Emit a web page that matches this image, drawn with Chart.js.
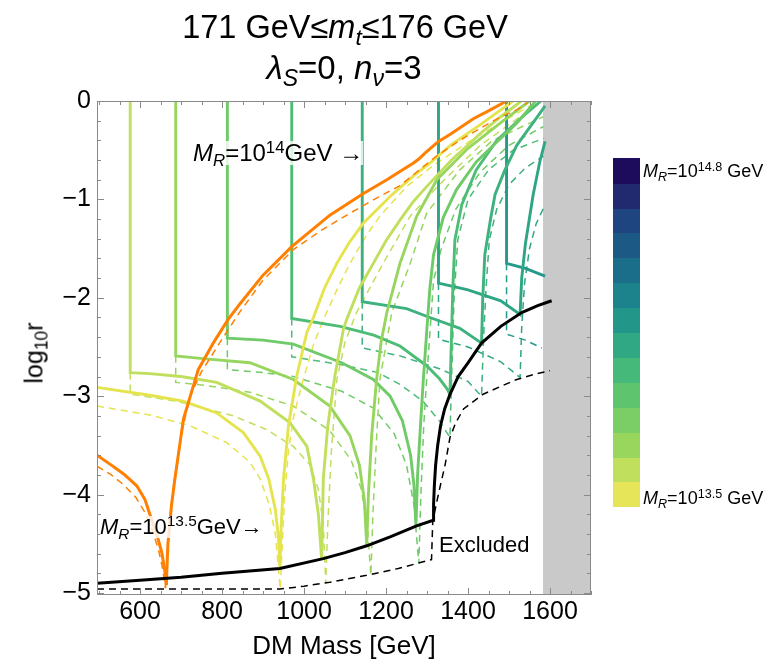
<!DOCTYPE html>
<html>
<head>
<meta charset="utf-8">
<script src="https://cdn.jsdelivr.net/npm/chart.js@4.4.1/dist/chart.umd.min.js"></script>
<style>
  html, body { margin: 0; padding: 0; background: #fff; }
  #wrap { position: relative; width: 779px; height: 662px; font-family: "Liberation Sans", Arial, sans-serif; color: #000; }
  canvas { position: absolute; left: 0; top: 0; }
  .lbl { position: absolute; white-space: nowrap; line-height: 1; }
  .sub { font-size: 70%; position: relative; top: 0.3em; }
  .sup { font-size: 70%; position: relative; top: -0.5em; }
  .bg { background: rgba(255, 255, 255, 0.8); }
  .blk { position: absolute; left: 613px; width: 27px; }
</style>
</head>
<body>
<div id="wrap">
  <canvas id="chart" width="779" height="662"></canvas>

  <div class="lbl" style="left:345px;top:11px;font-size:32.5px;transform:translateX(-50%)">171 GeV≤<i>m</i><i class="sub">t</i>≤176 GeV</div>
  <div class="lbl" style="left:344px;top:51px;font-size:33px;transform:translateX(-50%)"><i>λ</i><i class="sub">S</i>=0, <i>n</i><i class="sub">ν</i>=3</div>

  <div class="lbl" style="left:34px;top:353px;font-size:25px;transform:translate(-50%,-50%) rotate(-90deg)">log<span class="sub">10</span>r</div>

  <div class="lbl bg" style="left:193px;top:141px;font-size:24px"><i>M</i><i class="sub">R</i>=10<span class="sup">14</span>GeV →</div>
  <div class="lbl bg" style="left:100px;top:516px;font-size:22px"><i>M</i><i class="sub">R</i>=10<span class="sup">13.5</span>GeV→</div>
  <div class="lbl" style="left:439px;top:534px;font-size:22px">Excluded</div>

  <div class="lbl" style="left:643px;top:162px;font-size:18px"><i>M</i><i class="sub">R</i>=10<span class="sup">14.8</span> GeV</div>
  <div class="lbl" style="left:643px;top:489px;font-size:18px"><i>M</i><i class="sub">R</i>=10<span class="sup">13.5</span> GeV</div>
</div>

<script>
// axis ticks
const xTickVals = [600, 800, 1000, 1200, 1400, 1600];
const yTickVals = [0, -1, -2, -3, -4, -5];

// colorbar, bottom (10^13.5) to top (10^14.8)
const barColors = [
  '#e6e55a', '#c0df5c', '#99d65e', '#7bcd65', '#5ec46d', '#44b979', '#30a883',
  '#23968a', '#1c828b', '#1a6e8a', '#1c5a85', '#1f4580', '#212a6e', '#1d0b5b'
];

// excluded region (grey band)
const bandX = [1583, 1700];

// orange curve
const orangeLeft = [[495,-3.6],[530,-3.7],[560,-3.79],[592,-3.91],[612,-4.05],[628,-4.25],[642,-4.42],[653,-4.59],[660,-4.76],[664,-4.92]];
const orangeRight = [[664,-4.92],[668,-4.5],[677,-4.1],[685,-3.84],[706,-3.23],[742,-2.73],[780,-2.45],[815,-2.22],[844,-2.06],[900,-1.77],[970,-1.48],[1063,-1.16],[1145,-0.94],[1202,-0.8],[1267,-0.63],[1280,-0.59],[1295,-0.53],[1328,-0.41],[1356,-0.34],[1413,-0.18],[1450,-0.1],[1494,0]];
const orangeLeftDash = [[495,-3.71],[530,-3.8],[560,-3.9],[590,-4.03],[612,-4.18],[630,-4.36],[645,-4.56],[655,-4.75],[662,-4.95]];
const orangeRightDash = [[662,-4.95],[667,-4.55],[675,-4.15],[684,-3.85],[700,-3.4],[722,-3.0],[750,-2.75],[800,-2.42],[844,-2.14],[900,-1.82],[974,-1.51],[1040,-1.32],[1112,-1.14],[1180,-0.98],[1234,-0.86],[1320,-0.57],[1380,-0.4],[1429,-0.28],[1480,-0.16],[1519,-0.09],[1545,-0.02]];

// M_R curves, yellow to teal
const curve0Solid = [[495,-2.91],[624,-2.99],[705,-3.05],[787,-3.17],[852,-3.37],[893,-3.61],[914,-3.84],[930,-4.15],[938,-4.45],[941,-4.76],[944,-4.35],[950,-3.84],[962,-3.3],[982,-2.8],[1007,-2.35],[1023,-2.2],[1050,-1.9],[1080,-1.65],[1110,-1.44],[1145,-1.24],[1210,-0.97],[1267,-0.76],[1310,-0.62],[1360,-0.44],[1430,-0.24],[1470,-0.12],[1510,0]];
const curve0Dash = [[495,-3.1],[624,-3.19],[722,-3.3],[811,-3.47],[868,-3.67],[893,-3.84],[915,-4.1],[930,-4.4],[942,-4.96],[947,-4.5],[953,-4.0],[962,-3.55],[975,-3.2],[998,-2.83],[1025,-2.45],[1055,-2.15],[1080,-1.92],[1112,-1.65],[1150,-1.38],[1185,-1.17],[1250,-0.87],[1320,-0.64],[1400,-0.42],[1480,-0.22],[1555,-0.04]];

const curve1Solid = [[576,0],[576,-2.76],[624,-2.77],[700,-2.8],[787,-2.86],[893,-3.05],[966,-3.27],[1007,-3.51],[1023,-3.84],[1035,-4.2],[1043,-4.66],[1047,-3.84],[1058,-3.3],[1075,-2.8],[1096,-2.32],[1104,-2.22],[1135,-1.9],[1169,-1.65],[1200,-1.42],[1234,-1.21],[1265,-1.03],[1299,-0.87],[1360,-0.6],[1430,-0.33],[1480,-0.16],[1530,0]];
const curve1Dash = [[576,-2.76],[576,-2.98],[689,-3.05],[828,-3.2],[909,-3.34],[974,-3.51],[1015,-3.7],[1035,-3.95],[1047,-4.3],[1053,-4.9],[1058,-4.3],[1066,-3.6],[1080,-2.83],[1100,-2.45],[1128,-2.15],[1193,-1.65],[1259,-1.17],[1330,-0.85],[1430,-0.45],[1530,-0.15],[1575,-0.02]];

const curve2Solid = [[687,0],[687,-2.59],[760,-2.62],[868,-2.66],[974,-2.83],[1063,-3.1],[1112,-3.4],[1135,-3.7],[1147,-4.05],[1153,-4.52],[1157,-4.0],[1165,-3.4],[1177,-2.83],[1188,-2.45],[1202,-2.15],[1234,-1.65],[1275,-1.17],[1324,-0.8],[1400,-0.48],[1480,-0.22],[1550,0]];
const curve2Dash = [[687,-2.59],[687,-2.86],[760,-2.89],[868,-2.96],[974,-3.1],[1063,-3.35],[1115,-3.65],[1140,-3.95],[1155,-4.35],[1163,-4.82],[1168,-4.2],[1176,-3.5],[1185,-2.83],[1214,-2.15],[1259,-1.65],[1299,-1.14],[1380,-0.7],[1460,-0.4],[1584,-0.16]];

const curve3Solid = [[813,0],[813,-2.41],[900,-2.43],[974,-2.47],[1092,-2.66],[1169,-2.83],[1210,-3.0],[1240,-3.25],[1260,-3.6],[1268,-3.9],[1273,-4.32],[1277,-3.8],[1284,-3.3],[1291,-2.83],[1300,-2.3],[1307,-1.9],[1316,-1.56],[1340,-1.18],[1372,-0.9],[1420,-0.62],[1462,-0.45],[1520,-0.22],[1565,0]];
const curve3Dash = [[813,-2.41],[813,-2.73],[900,-2.76],[974,-2.8],[1092,-2.95],[1169,-3.12],[1220,-3.38],[1250,-3.7],[1268,-4.1],[1280,-4.7],[1285,-4.0],[1292,-3.3],[1299,-2.83],[1308,-2.3],[1316,-1.82],[1335,-1.5],[1370,-1.1],[1430,-0.72],[1500,-0.45],[1584,-0.26]];

const curve4Solid = [[970,0],[970,-2.21],[1088,-2.29],[1170,-2.38],[1234,-2.49],[1299,-2.69],[1330,-2.82],[1348,-2.92],[1356,-2.98],[1359,-2.5],[1363,-1.9],[1368,-1.41],[1385,-1.05],[1420,-0.7],[1470,-0.4],[1530,-0.17],[1578,0]];
const curve4Dash = [[970,-2.21],[970,-2.6],[1092,-2.68],[1180,-2.76],[1234,-2.88],[1290,-3.05],[1330,-3.25],[1356,-3.42],[1360,-2.8],[1366,-2.0],[1375,-1.41],[1400,-1.0],[1450,-0.7],[1510,-0.5],[1584,-0.38]];

const curve5Solid = [[1142,0],[1142,-2.04],[1250,-2.11],[1307,-2.2],[1380,-2.31],[1433,-2.46],[1436,-2.0],[1441,-1.56],[1455,-1.2],[1466,-0.95],[1490,-0.7],[1519,-0.45],[1550,-0.27],[1576,-0.12],[1588,-0.05]];
const curve5Dash = [[1142,-2.04],[1142,-2.51],[1234,-2.59],[1330,-2.72],[1400,-2.85],[1433,-3.0],[1438,-2.4],[1444,-1.9],[1452,-1.41],[1470,-1.1],[1500,-0.85],[1540,-0.68],[1584,-0.56]];

const curve6Solid = [[1328,0],[1328,-1.85],[1400,-1.92],[1480,-2.03],[1527,-2.17],[1531,-1.8],[1540,-1.45],[1559,-0.95],[1575,-0.62],[1588,-0.41]];
const curve6Dash = [[1328,-1.85],[1328,-2.42],[1400,-2.5],[1480,-2.65],[1527,-2.81],[1531,-2.3],[1538,-1.85],[1550,-1.5],[1566,-1.25],[1584,-1.09]];

const curve7Solid = [[1494,0],[1494,-1.65],[1540,-1.7],[1588,-1.78]];
const curve7Dash = [[1494,-1.65],[1494,-2.37],[1540,-2.43],[1580,-2.51]];

// exclusion boundaries
const blackSolid = [[495,-4.9],[600,-4.87],[700,-4.84],[800,-4.8],[941,-4.75],[1047,-4.65],[1100,-4.59],[1153,-4.52],[1210,-4.43],[1273,-4.32],[1315,-4.26],[1316,-4.1],[1318,-3.9],[1321,-3.7],[1326,-3.5],[1333,-3.3],[1343,-3.13],[1356,-2.98],[1376,-2.8],[1400,-2.66],[1433,-2.46],[1480,-2.29],[1531,-2.15],[1570,-2.08],[1604,-2.03]];
const blackDash = [[495,-4.96],[941,-4.96],[1000,-4.93],[1063,-4.89],[1153,-4.82],[1230,-4.75],[1311,-4.66],[1314,-4.27],[1325,-4.05],[1334,-3.88],[1344,-3.7],[1356,-3.42],[1370,-3.27],[1389,-3.13],[1437,-2.98],[1480,-2.9],[1519,-2.83],[1560,-2.78],[1600,-2.74]];

const curveColors = ['#e5e44f', '#c0df5c', '#97d65e', '#6fca68', '#4dbd76', '#3db17e', '#2ea584', '#25998a'];
const curvesSolid = [curve0Solid, curve1Solid, curve2Solid, curve3Solid, curve4Solid, curve5Solid, curve6Solid, curve7Solid];
const curvesDash = [curve0Dash, curve1Dash, curve2Dash, curve3Dash, curve4Dash, curve5Dash, curve6Dash, curve7Dash];

const family = '"Liberation Sans", Arial, sans-serif';
const dash = [7, 5];

function line(pts, color, width, pattern, order) {
  return {
    data: pts.map(([x, y]) => ({ x, y })),
    showLine: true,
    borderColor: color,
    borderWidth: width,
    borderDash: pattern,
    pointRadius: 0,
    tension: 0,
    fill: false,
    order: order
  };
}

const datasets = [];
datasets.push(line(blackSolid, '#000', 3, [], 0));
datasets.push(line(blackDash, '#000', 1.5, dash, 0));
datasets.push(line(orangeLeft, '#ff7f00', 3, [], 1));
datasets.push(line(orangeRight, '#ff7f00', 3, [], 1));
datasets.push(line(orangeLeftDash, '#ff7f00', 1.5, dash, 1));
datasets.push(line(orangeRightDash, '#ff7f00', 1.5, dash, 1));
curvesSolid.forEach((c, i) => datasets.push(line(c, curveColors[i], 2.9, [], 2)));
curvesDash.forEach((c, i) => datasets.push(line(c, curveColors[i], 1.5, dash, 3)));
datasets.push({
  data: bandX.map(x => ({ x, y: 0 })),
  showLine: true,
  borderWidth: 0,
  pointRadius: 0,
  backgroundColor: '#c9c9c9',
  fill: 'start',
  order: 10
});

// frame with inward ticks on all four sides
const frameTicks = {
  id: 'frameTicks',
  afterDatasetsDraw(chart) {
    const { ctx, chartArea: a, scales: { x, y } } = chart;
    ctx.save();
    ctx.strokeStyle = '#8a8a8a';
    ctx.lineWidth = 1;
    ctx.beginPath();
    for (let v = 500; v <= 1700; v += 50) {
      const p = Math.round(x.getPixelForValue(v)) + 0.5;
      const len = xTickVals.includes(v) ? 7 : 4;
      ctx.moveTo(p, a.bottom); ctx.lineTo(p, a.bottom - len);
      ctx.moveTo(p, a.top); ctx.lineTo(p, a.top + len);
    }
    for (let k = 0; k <= 25; k++) {
      const p = Math.round(y.getPixelForValue(-k / 5)) + 0.5;
      const len = k % 5 === 0 ? 7 : 4;
      ctx.moveTo(a.left, p); ctx.lineTo(a.left + len, p);
      ctx.moveTo(a.right, p); ctx.lineTo(a.right - len, p);
    }
    ctx.stroke();
    ctx.strokeRect(a.left + 0.5, a.top + 0.5, a.right - a.left - 1, a.bottom - a.top - 1);
    ctx.restore();
  }
};

new Chart(document.getElementById('chart'), {
  type: 'scatter',
  data: { datasets: datasets },
  options: {
    responsive: false,
    animation: false,
    devicePixelRatio: 1,
    layout: { padding: { left: 0, top: 101, right: 188, bottom: 0 } },
    plugins: {
      legend: { display: false },
      tooltip: { enabled: false }
    },
    scales: {
      x: {
        type: 'linear',
        min: 495,
        max: 1700,
        afterBuildTicks: s => { s.ticks = xTickVals.map(v => ({ value: v })); },
        afterFit: s => { s.height = 67; },
        grid: { display: false, drawTicks: false },
        border: { display: false },
        ticks: { color: '#000', font: { size: 25, family }, padding: 2, maxRotation: 0, autoSkip: false, callback: v => String(v) },
        title: { display: true, text: 'DM Mass [GeV]', color: '#000', font: { size: 26, family }, padding: { top: 0, bottom: 0 } }
      },
      y: {
        type: 'linear',
        min: -5.02,
        max: 0,
        afterBuildTicks: s => { s.ticks = yTickVals.map(v => ({ value: v })); },
        afterFit: s => { s.width = 97; },
        grid: { display: false, drawTicks: false },
        border: { display: false },
        ticks: {
          color: '#000',
          font: { size: 25, family },
          padding: 6,
          callback: v => (v === 0 ? '0' : '\u2212' + Math.abs(v))
        }
      }
    }
  },
  plugins: [frameTicks]
});

// colorbar blocks
const wrap = document.getElementById('wrap');
barColors.forEach((c, i) => {
  const d = wrap.appendChild(document.createElement('div'));
  d.className = 'blk';
  d.style.background = c;
  d.style.top = (507 - (i + 1) * 24.9).toFixed(1) + 'px';
  d.style.height = '25.3px';
});
</script>
</body>
</html>
